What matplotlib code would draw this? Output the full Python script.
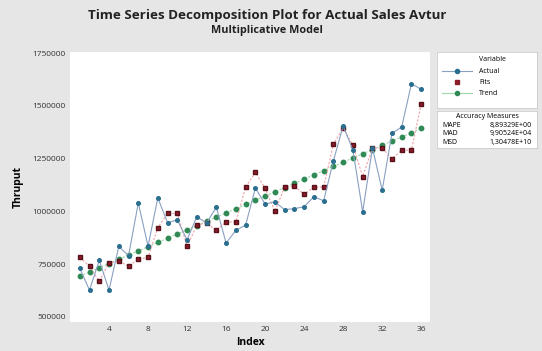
import numpy as np
import matplotlib.pyplot as plt

plt.rcParams['font.family'] = ['Open Sans', 'DejaVu Sans']

# Data
index = list(range(1, 37))
actual = [730000, 627000, 768000, 627000, 834000, 790000, 1040000, 835000, 1064000, 946000,
          960000, 865000, 975000, 945000, 1020000, 850000, 910000, 935000, 1110000, 1035000,
          1045000, 1008000, 1013000, 1022000, 1070000, 1050000, 1240000, 1405000, 1290000, 998000,
          1300000, 1100000, 1370000, 1400000, 1605000, 1578000]
fits = [782000, 740000, 669000, 755000, 765000, 740000, 773000, 782000, 923000, 990000,
        990000, 835000, 935000, 945000, 910000, 950000, 950000, 1115000, 1185000, 1110000,
        1000000, 1115000, 1120000, 1080000, 1115000, 1115000, 1318000, 1395000, 1313000, 1165000,
        1300000, 1300000, 1250000, 1290000, 1290000, 1510000]
trend = [693000, 713000, 733000, 753000, 773000, 793000, 813000, 833000, 853000, 873000,
         893000, 913000, 933000, 953000, 973000, 993000, 1013000, 1033000, 1053000, 1073000,
         1093000, 1113000, 1133000, 1153000, 1173000, 1193000, 1213000, 1233000, 1253000, 1273000,
         1293000, 1313000, 1333000, 1353000, 1373000, 1393000]

xticks = [4, 8, 12, 16, 20, 24, 28, 32, 36]
yticks = [500000, 750000, 1000000, 1250000, 1500000, 1750000]
measures = [("MAPE", "8,89329E+00"), ("MAD", "9,90524E+04"), ("MSD", "1,30478E+10")]

bg = '#e6e6e6'
fig = plt.figure(figsize=(5.42, 3.51), dpi=100, facecolor=bg)
ax = fig.add_axes([70 / 542, 1 - 322 / 351, 360 / 542, 270 / 351])
ax.set_facecolor('white')

ax.plot(index, trend, color='#9fd8a8', lw=0.8, ls=(0, (2, 1.5)),
        marker='o', ms=3.2, mfc='#2f8a55', mec='#2f8a55', zorder=2)
ax.plot(index, fits, color='#f0a0a8', lw=0.8, ls=(0, (2, 1.5)),
        marker='s', ms=3.4, mfc='#8a1c2c', mec='#5a1018', zorder=3)
ax.plot(index, actual, color='#8aa0c0', lw=0.8,
        marker='o', ms=2.6, mfc='#2a6f8f', mec='#2a6f8f', zorder=4)

ax.set_xlim(0, 36.9)
ax.set_ylim(476000, 1755000)
ax.set_xticks(xticks)
ax.set_yticks(yticks)
ax.set_yticklabels([str(v) for v in yticks])
ax.tick_params(labelsize=6, length=0, colors='#333333', pad=3)
for s in ax.spines.values():
    s.set_visible(False)

ax.set_xlabel('Index', fontsize=7.5, fontweight='bold', labelpad=3)
ax.set_ylabel('Thruput', fontsize=7.5, fontweight='bold', labelpad=6)

fig.text(0.493, 1 - 15 / 351, 'Time Series Decomposition Plot for Actual Sales Avtur',
         ha='center', va='center', fontsize=9.6, fontweight='bold', color='#222222')
fig.text(0.493, 1 - 31 / 351, 'Multiplicative Model',
         ha='center', va='center', fontsize=7.8, fontweight='bold', color='#222222')

# legend panel
lx0, lw = 437 / 542, 100 / 542
leg = fig.add_axes([lx0, 1 - 108 / 351, lw, 56 / 351])
leg.set_xlim(0, 1)
leg.set_ylim(0, 1)
leg.set_xticks([])
leg.set_yticks([])
leg.set_facecolor('white')
for s in leg.spines.values():
    s.set_color('#cccccc')
    s.set_linewidth(0.6)
leg.text(0.55, 0.87, 'Variable', fontsize=5, ha='center', va='center')
rows = [('Actual', '#8aa0c0', 'o', '#2a6f8f', '-'),
        ('Fits', '#f0a0a8', 's', '#8a1c2c', 'none'),
        ('Trend', '#9fd8a8', 'o', '#2f8a55', '-')]
for k, (name, lc, mk, mc, ls) in enumerate(rows):
    yy = 0.66 - k * 0.2
    leg.plot([0.05, 0.35], [yy, yy], color=lc, lw=0.8, ls=ls)
    leg.plot([0.2], [yy], marker=mk, ms=3, color=mc)
    leg.text(0.42, yy, name, fontsize=5, va='center')

acc = fig.add_axes([lx0, 1 - 148 / 351, lw, 37 / 351])
acc.set_xlim(0, 1)
acc.set_ylim(0, 1)
acc.set_xticks([])
acc.set_yticks([])
acc.set_facecolor('white')
for s in acc.spines.values():
    s.set_color('#cccccc')
    s.set_linewidth(0.6)
acc.text(0.5, 0.84, 'Accuracy Measures', fontsize=5, ha='center', va='center')
for k, (name, val) in enumerate(measures):
    yy = 0.6 - k * 0.22
    acc.text(0.05, yy, name, fontsize=5, va='center')
    acc.text(0.95, yy, val, fontsize=5, va='center', ha='right')

fig.savefig('out.png', dpi=100, facecolor=bg)
